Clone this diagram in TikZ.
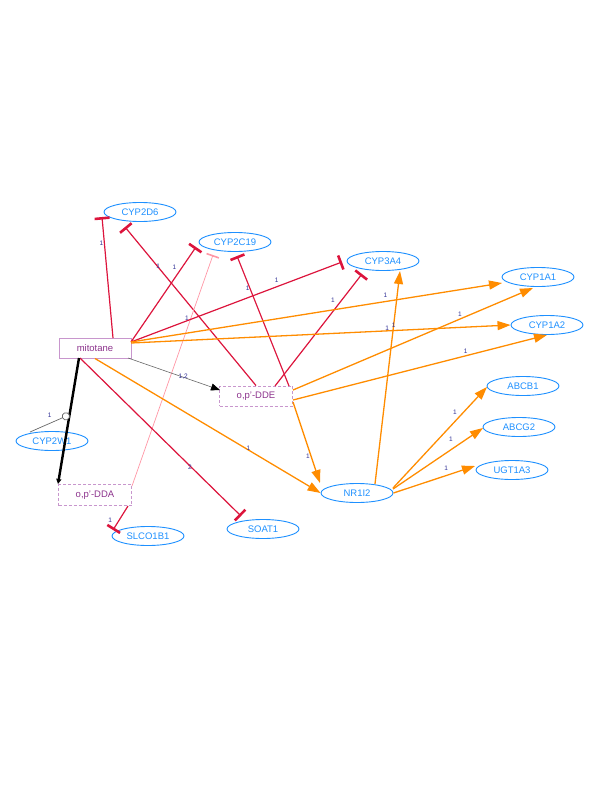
\documentclass[tikz,border=0pt]{standalone}
\usepackage{fontspec}
\setmainfont{Liberation Sans}
\usetikzlibrary{shapes.geometric,arrows.meta,calc}
\definecolor{inhred}{RGB}{220,20,60}
\definecolor{inhpink}{RGB}{255,150,165}
\definecolor{actorange}{RGB}{255,140,0}
\definecolor{geneblue}{RGB}{30,144,255}
\definecolor{chemborder}{RGB}{200,150,205}
\definecolor{chemtext}{RGB}{140,50,140}
\definecolor{labnavy}{RGB}{50,50,150}
\begin{document}
\begin{tikzpicture}[x=1pt,y=-1pt,
  gene/.style={ellipse,draw=geneblue,line width=0.9pt,text=geneblue,minimum width=72pt,minimum height=19pt,inner sep=0pt,font=\fontsize{9.5}{10}\selectfont},
  chem/.style={rectangle,draw=chemborder,line width=1pt,text=chemtext,minimum width=72pt,minimum height=20pt,inner sep=0pt,font=\fontsize{9.5}{10}\selectfont},
  chemdash/.style={chem,dashed,dash pattern=on 3pt off 2pt,line width=0.9pt},
  inh/.style={draw=inhred,line width=1.2pt,-{Bar[width=15pt,line width=2.6pt]}},
  inhlight/.style={draw=inhpink,line width=0.7pt,-{Bar[width=13pt,line width=1.6pt]}},
  act/.style={draw=actorange,line width=1.3pt,-{Triangle[length=13pt,width=9pt]}},
  conv/.style={draw=black!60,line width=0.6pt,-{Triangle[length=9pt,width=7pt,color=black]}},
  convthick/.style={draw=black,line width=2.4pt,-{Triangle[length=5pt,width=5pt]}},
  catal/.style={draw=black!60,line width=0.7pt,-{Circle[open,length=8pt,width=8pt,fill=white]}},
  lab/.style={text=labnavy,font=\fontsize{6.5}{6.5}\selectfont,inner sep=0pt}
]
\useasboundingbox (0,0) rectangle (612,792);

% nodes
\node[gene] (CYP2D6) at (140,212) {CYP2D6};
\node[gene] (CYP2C19) at (235,242) {CYP2C19};
\node[gene] (CYP3A4) at (383,261) {CYP3A4};
\node[gene] (CYP1A1) at (538,277) {CYP1A1};
\node[gene] (CYP1A2) at (547,325) {CYP1A2};
\node[gene] (CYP2W1) at (52,441) {CYP2W1};
\node[gene] (SLCO1B1) at (148,536) {SLCO1B1};
\node[gene] (SOAT1) at (263,529) {SOAT1};
\node[gene] (ABCB1) at (523,386) {ABCB1};
\node[gene] (ABCG2) at (519,427) {ABCG2};
\node[gene] (UGT1A3) at (512,470) {UGT1A3};
\node[gene] (NR1I2) at (357,493) {NR1I2};
\node[chem] (mitotane) at (95,348) {mitotane};
\node[chemdash,minimum width=73pt] (DDE) at (256,396) {o,p'-DDE};
\node[chemdash,minimum width=73pt,minimum height=21pt] (DDA) at (95,495) {o,p'-DDA};

% inhibitions
\draw[inh] ($(mitotane)+(18,-10)$) -- ($(CYP2D6)+(-38,5)$) node[lab,pos=0.78,xshift=-3pt]{1};
\draw[inh] (DDE.north) -- ($(CYP2D6)+(-15,15)$) node[lab,pos=0.755,xshift=1pt]{1};
\draw[inh] ($(mitotane)+(36,-6)$) -- ($(CYP2C19)+(-39,5)$) node[lab,pos=0.79,xshift=-8pt]{1};
\draw[inhlight] ($(DDA)+(37,-9)$) -- ($(CYP2C19)+(-22,13)$) node[lab,pos=0.727,xshift=-4pt]{1};
\draw[inh] ($(DDE)+(33,-10)$) -- ($(CYP2C19)+(2,14)$) node[lab,pos=0.754,xshift=-2pt]{1};
\draw[inh] ($(mitotane)+(36,-6)$) -- ($(CYP3A4)+(-41,1)$) node[lab,pos=0.69,yshift=7pt]{1};
\draw[inh] ($(DDE)+(19,-10)$) -- ($(CYP3A4)+(-21,13)$) node[lab,pos=0.667,yshift=11pt]{1};
\draw[inh] ($(mitotane)+(-15,10)$) -- ($(SOAT1)+(-22,-13)$) node[lab,pos=0.683,yshift=-1pt]{2};
\draw[inh] ($(DDA)+(33,11)$) -- ($(SLCO1B1)+(-35,-6)$) node[lab,pos=0.58,xshift=-9pt]{1};

% activations
\draw[act] ($(mitotane)+(36,-6)$) -- ($(CYP1A1)+(-36,6)$) node[lab,pos=0.686,yshift=6pt]{1};
\draw[act] ($(mitotane)+(36,-5)$) -- (CYP1A2.west) node[lab,pos=0.675,yshift=3pt]{1};
\draw[act] (mitotane.south) -- (NR1I2.west) node[lab,pos=0.68,yshift=2pt]{1};
\draw[act] ($(DDE)+(37,-6)$) -- ($(CYP1A1)+(-5,11)$) node[lab,pos=0.696,yshift=5pt]{1};
\draw[act] ($(DDE)+(37,4)$) -- ($(CYP1A2)+(0,10)$) node[lab,pos=0.68,yshift=5pt]{1};
\draw[act] ($(DDE)+(37,6)$) -- ($(NR1I2)+(-37,-10)$) node[lab,pos=0.667,xshift=-3pt]{1};
\draw[act] ($(NR1I2)+(18,-9)$) -- ($(CYP3A4)+(17,10)$) node[lab,pos=0.743]{1};
\draw[act] ($(NR1I2)+(36,-5)$) -- ($(ABCB1)+(-36,1)$) node[lab,pos=0.66,yshift=9pt]{1};
\draw[act] ($(NR1I2)+(36,-4)$) -- ($(ABCG2)+(-36,1)$) node[lab,pos=0.644,yshift=10pt]{1};
\draw[act] (NR1I2.east) -- ($(UGT1A3)+(-37,-4)$) node[lab,pos=0.646,yshift=7pt]{1};

% conversions
\draw[conv] ($(mitotane)+(33,10)$) -- ($(DDE)+(-36,-6)$) node[lab,pos=0.6,yshift=1pt]{1,2};
\draw[convthick] ($(mitotane)+(-16,10)$) -- coordinate[pos=0.45] (catpt) ($(DDA)+(-37,-11)$);
\draw[catal] ($(CYP2W1)+(-22,-9)$) -- (catpt) node[lab,pos=0.5,yshift=8pt]{1};
\end{tikzpicture}
\end{document}
